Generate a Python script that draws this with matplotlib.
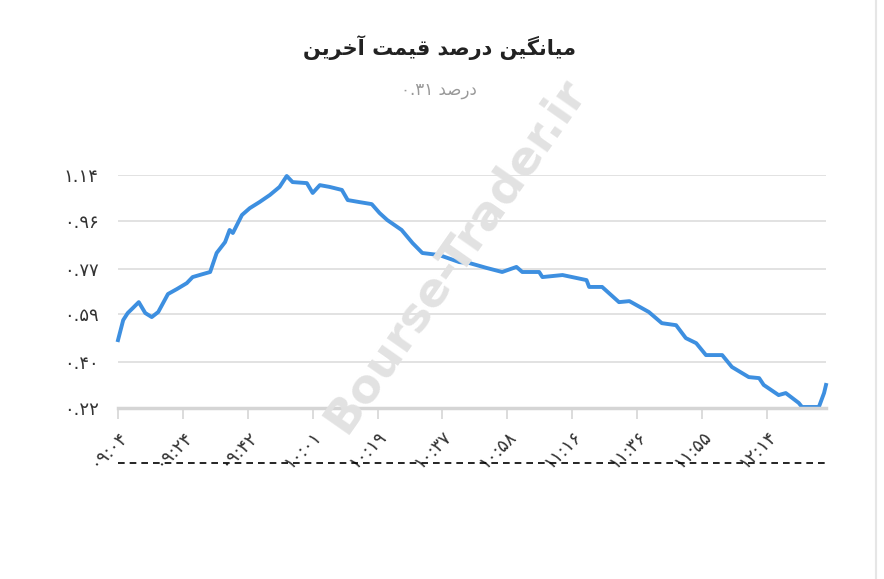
import matplotlib
matplotlib.use("Agg")
import matplotlib.pyplot as plt

# time index (minutes from start) and average last-price percent
x_idx = [0, 0.8, 1.5, 2.3, 3.2, 4.2, 5.2, 6.2, 7.7, 9.1, 10.6, 11.5, 13.1, 14.2, 15.2,
         16.5, 17.2, 17.7, 19.1, 20.3, 21.8, 23.4, 24.9, 26, 26.9, 29.1, 30, 31.1, 32.6,
         34.5, 35.4, 37.2, 39.1, 40.3, 41.5, 43.7, 45.4, 46.9, 49.5, 52.6, 54.2, 56.8,
         59.2, 61.4, 62.3, 64.9, 65.4, 68.5, 72.2, 72.6, 74.6, 77.2, 78.8, 81.8, 83.8,
         86, 87.5, 89.1, 90.6, 93.1, 94.6, 97.2, 98.8, 99.5, 101.8, 102.9, 104.9, 105.4,
         108, 108.8, 109.1]
values = [0.488, 0.567, 0.595, 0.615, 0.638, 0.595, 0.579, 0.599, 0.670, 0.690, 0.713,
          0.737, 0.749, 0.757, 0.832, 0.875, 0.923, 0.911, 0.982, 1.009, 1.033, 1.061,
          1.093, 1.136, 1.112, 1.108, 1.069, 1.100, 1.093, 1.081, 1.041, 1.033, 1.025,
          0.990, 0.962, 0.923, 0.871, 0.832, 0.824, 0.796, 0.792, 0.773, 0.757,
          0.777, 0.757, 0.757, 0.737, 0.745, 0.725, 0.698, 0.698, 0.638, 0.642, 0.599,
          0.555, 0.547, 0.496, 0.476, 0.429, 0.429, 0.382, 0.342, 0.338, 0.311, 0.271,
          0.279, 0.240, 0.224, 0.224, 0.279, 0.311]

y_ticks = [0.22, 0.40, 0.59, 0.77, 0.96, 1.14]
y_labels = ["۰.۲۲", "۰.۴۰", "۰.۵۹", "۰.۷۷", "۰.۹۶", "۱.۱۴"]
x_ticks = [0, 10, 20, 30, 40, 50, 60, 70, 80, 90, 100]
x_labels = ["۰۹:۰۴", "۰۹:۲۴", "۰۹:۴۲", "۱۰:۰۱", "۱۰:۱۹", "۱۰:۳۷",
            "۱۰:۵۸", "۱۱:۱۶", "۱۱:۳۶", "۱۱:۵۵", "۱۲:۱۴"]

title_fa = "میانگین درصد قیمت آخرین"
subtitle_word = "درصد"
subtitle_num = "۰.۳۱"

# simple Persian shaping (isolated, final, initial, medial)
FORMS = {
    "م": ("\uFEE1", "\uFEE2", "\uFEE3", "\uFEE4"),
    "ی": ("\uFBFC", "\uFBFD", "\uFBFE", "\uFBFF"),
    "ن": ("\uFEE5", "\uFEE6", "\uFEE7", "\uFEE8"),
    "گ": ("\uFB92", "\uFB93", "\uFB94", "\uFB95"),
    "ص": ("\uFEB9", "\uFEBA", "\uFEBB", "\uFEBC"),
    "ق": ("\uFED5", "\uFED6", "\uFED7", "\uFED8"),
    "ت": ("\uFE95", "\uFE96", "\uFE97", "\uFE98"),
    "خ": ("\uFEA5", "\uFEA6", "\uFEA7", "\uFEA8"),
    "ا": ("\uFE8D", "\uFE8E", None, None),
    "آ": ("\uFE81", "\uFE82", None, None),
    "د": ("\uFEA9", "\uFEAA", None, None),
    "ر": ("\uFEAD", "\uFEAE", None, None),
}


def joins_next(ch):
    return ch in FORMS and FORMS[ch][2] is not None


def shape(text):
    out = []
    for i, ch in enumerate(text):
        if ch not in FORMS:
            out.append(ch)
            continue
        prev = text[i - 1] if i > 0 else " "
        nxt = text[i + 1] if i + 1 < len(text) else " "
        left = joins_next(prev)
        right = nxt in FORMS and joins_next(ch)
        f = FORMS[ch]
        if left and right:
            out.append(f[3])
        elif left:
            out.append(f[1])
        elif right:
            out.append(f[2])
        else:
            out.append(f[0])
    return "".join(out)[::-1]


plt.rcParams["font.family"] = ["DejaVu Sans"]
fig = plt.figure(figsize=(8.84, 5.79), dpi=100)
ax = fig.add_axes([118 / 884, 1 - 408 / 579, 708 / 884, 233 / 579])

fig.text(0.515, 1 - 255 / 579, "Bourse-Trader.ir", ha="center", va="center",
         rotation=55, fontsize=34, fontweight="bold", color="#e2e2e2", zorder=0)
ax.patch.set_alpha(0)

ax.plot(x_idx, values, color="#3d8fe0", lw=2.8, clip_on=False, solid_joinstyle="round")
ax.set_xlim(0, 109.1)
ax.set_ylim(0.22, 1.14)
ax.set_yticks(y_ticks)
ax.set_yticklabels(y_labels, fontsize=13, color="#333333")
ax.set_xticks(x_ticks)
ax.set_xticklabels(x_labels, fontsize=13, color="#333333", rotation=45,
                   ha="right", rotation_mode="anchor")
ax.grid(axis="y", color="#dddddd", lw=1.2)
ax.set_axisbelow(True)
for s in ["top", "right", "left"]:
    ax.spines[s].set_visible(False)
ax.spines["bottom"].set_color("#d5d5d5")
ax.spines["bottom"].set_linewidth(2.5)
ax.tick_params(axis="y", length=0, pad=14)
ax.tick_params(axis="x", length=8, color="#d5d5d5", width=1.2, pad=6)

ax.plot([0, 1], [-0.236, -0.236], transform=ax.transAxes, color="black",
        ls=(0, (4, 3)), lw=1.2, clip_on=False)

fig.text(0.497, 1 - 48 / 579, shape(title_fa), ha="center", va="center",
         fontsize=15, fontweight="bold", color="#222222")
fig.text(0.497, 1 - 90 / 579, subtitle_num + " " + shape(subtitle_word), ha="center",
         va="center", fontsize=12, color="#999999")
fig.add_artist(plt.Line2D([876 / 884, 876 / 884], [0, 1], color="#e6e6e6", lw=1.5))

fig.savefig("out.png", dpi=100, facecolor="white")
